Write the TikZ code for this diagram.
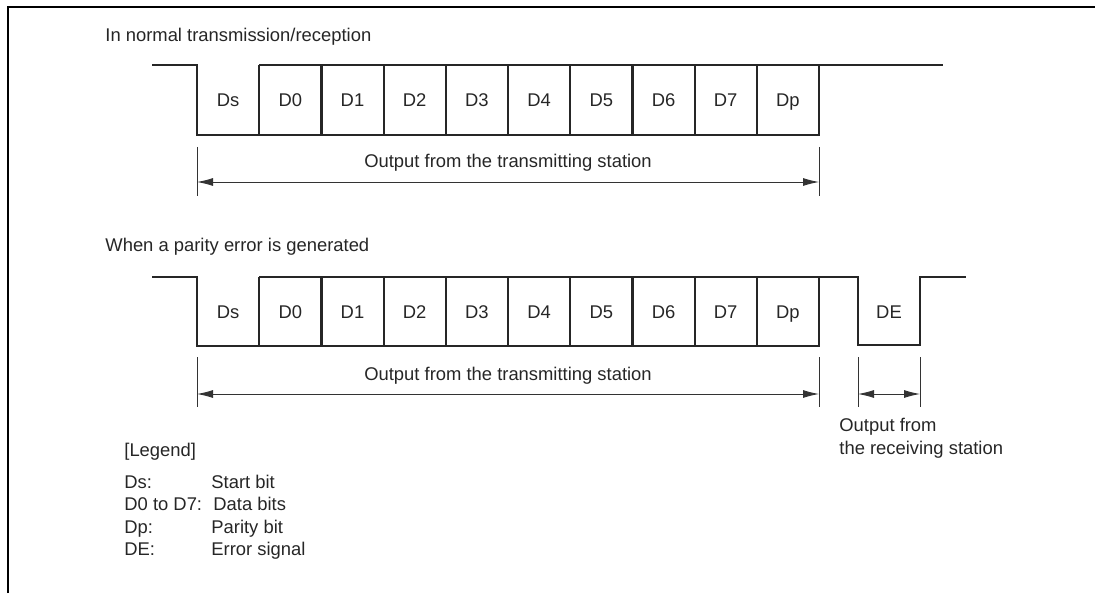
\documentclass[tikz,border=0pt]{standalone}
\usepackage{fontspec}
\setmainfont{Liberation Sans}
\usetikzlibrary{arrows.meta}
\begin{document}
\begin{tikzpicture}[x=0.5pt,y=-0.5pt,
  wave/.style={line width=1.1pt, draw=black!85, line join=miter},
  frameline/.style={line width=1.3pt, draw=black},
  dim/.style={line width=0.45pt, draw=black!80},
  dimarrow/.style={dim, {Latex[length=8pt,width=4pt]}-{Latex[length=8pt,width=4pt]}},
  lbl/.style={font=\fontsize{9.2}{11}\selectfont, text=black!85, inner sep=0pt,
              text height=6.6pt, text depth=0pt},
  lblw/.style={lbl, anchor=west},
]
\useasboundingbox (0,0) rectangle (1095,593);
% frame
\draw[frameline] (8,593) -- (8,7) -- (1095,7);

% ---------- section 1 ----------
\node[lblw] (title1) at (105,35) {In normal transmission/reception};
\draw[wave] (152,65) -- (197,65) -- (197,135) -- (819,135) -- (819,65);
\draw[wave] (259,65) -- (943,65);
\foreach \k in {1,...,9} \draw[wave] ({197+62.2*\k},65) -- ({197+62.2*\k},135);
\foreach \t [count=\k from 0] in {Ds,D0,D1,D2,D3,D4,D5,D6,D7,Dp}
  \node[lbl] (a\k) at ({228.1+62.2*\k},100) {\t};

\coordinate (t1a) at (197,147); \coordinate (t1b) at (197,196);
\coordinate (t1c) at (819,147); \coordinate (t1d) at (819,196);
\draw[dim] (t1a) -- (t1b);
\draw[dim] (t1c) -- (t1d);
\coordinate (d1l) at (197,182); \coordinate (d1r) at (819,182);
\draw[dimarrow] (d1l) -- (d1r);
\node[lbl] (out1) at (508,161) {Output from the transmitting station};

% ---------- section 2 ----------
\node[lblw] (title2) at (105,245) {When a parity error is generated};
\draw[wave] (152,277) -- (197,277) -- (197,346) -- (819,346) -- (819,277);
\draw[wave] (259,277) -- (858,277) -- (858,345) -- (920,345) -- (920,277) -- (966,277);
\foreach \k in {1,...,9} \draw[wave] ({197+62.2*\k},277) -- ({197+62.2*\k},346);
\foreach \t [count=\k from 0] in {Ds,D0,D1,D2,D3,D4,D5,D6,D7,Dp}
  \node[lbl] (b\k) at ({228.1+62.2*\k},312) {\t};
\node[lbl] (de) at (889,312) {DE};

\foreach \x/\n in {197/p, 819/q, 858/r, 920/s} {
  \coordinate (\n top) at (\x,357);
  \coordinate (\n bot) at (\x,407);
  \draw[dim] (\n top) -- (\n bot);
}
\coordinate (d2l) at (197,394); \coordinate (d2r) at (819,394);
\draw[dimarrow] (d2l) -- (d2r);
\coordinate (d3l) at (858,394); \coordinate (d3r) at (920,394);
\draw[dimarrow] (d3l) -- (d3r);
\node[lbl] (out2) at (508,374) {Output from the transmitting station};
\node[lblw] (rx1) at (839,425) {Output from};
\node[lblw] (rx2) at (839,448) {the receiving station};

% ---------- legend ----------
\node[lblw] (leg) at (124,450) {[Legend]};
\node[lblw] (k1) at (124,482) {Ds:};
\node[lblw] (k2) at (124,504) {D0 to D7:};
\node[lblw] (k3) at (124,527) {Dp:};
\node[lblw] (k4) at (124,549) {DE:};
\node[lblw] (v1) at (211,482) {Start bit};
\node[lblw] (v2) at (213,504) {Data bits};
\node[lblw] (v3) at (211,527) {Parity bit};
\node[lblw] (v4) at (211,549) {Error signal};
\end{tikzpicture}
\end{document}
